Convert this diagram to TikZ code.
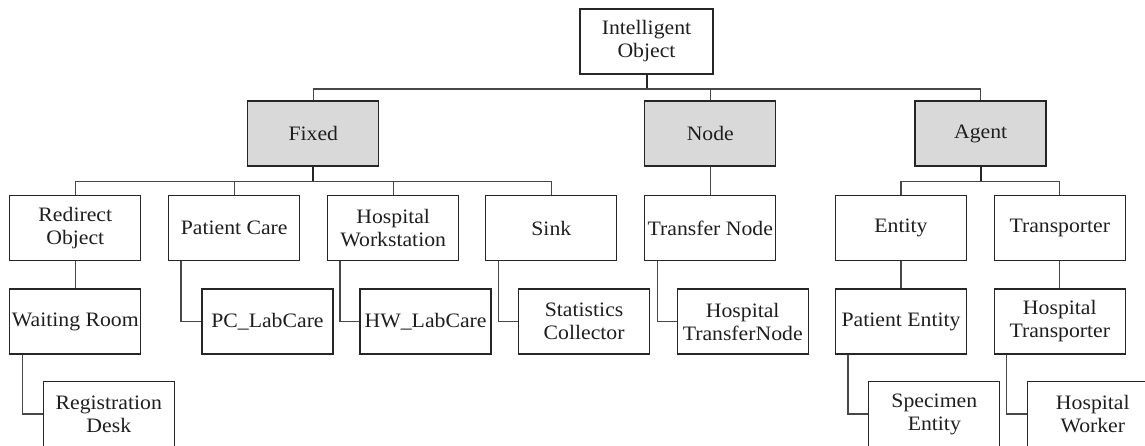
\documentclass[tikz,border=0pt]{standalone}
\usepackage{fontspec}
\setmainfont[FakeStretch=1.06]{Liberation Serif}
\begin{document}
\begin{tikzpicture}[x=1pt,y=-1pt,
  box/.style={draw=black!85,line width=1.3pt,fill=white,minimum width=131pt,minimum height=65pt,
    align=center,inner sep=1pt,text=black!88,font=\fontsize{20.5}{23}\selectfont},
  gbox/.style={box,fill=black!15},
  link/.style={draw=black!72,line width=1.3pt},
  stem/.style={draw=black!85,line width=2pt}]
\useasboundingbox (0,0) rectangle (1145,446);
% level 0
\node[box,minimum width=133pt] (io) at (646.5,41.5) {Intelligent\\Object};
% level 1
\node[gbox] (fixed) at (313.3,133.5) {Fixed};
\node[gbox] (nodeb) at (710.3,133.5) {Node};
\node[gbox] (agent) at (980.6,133.5) {Agent};
% level 2
\node[box] (redirect) at (75.3,228) {Redirect\\Object};
\node[box] (pcare) at (234.2,228) {Patient Care};
\node[box] (hws) at (393.2,228) {Hospital\\Workstation};
\node[box] (sink) at (551.3,228) {Sink};
\node[box] (tnode) at (710.3,228) {Transfer Node};
\node[box] (entity) at (901,228) {Entity};
\node[box] (transp) at (1059.8,228) {Transporter};
% level 3
\node[box] (wroom) at (75.3,321.5) {Waiting Room};
\node[box] (pclab) at (267.5,321.5) {PC\_LabCare};
\node[box] (hwlab) at (425.6,321.5) {HW\_LabCare};
\node[box] (stats) at (584.1,321.5) {Statistics\\Collector};
\node[box] (htnode) at (742.7,321.5) {Hospital\\TransferNode};
\node[box] (pent) at (901,321.5) {Patient Entity};
\node[box] (htransp) at (1059.8,321.5) {Hospital\\Transporter};
% level 4
\node[box] (reg) at (108.8,414) {Registration\\Desk};
\node[box] (spec) at (934.3,414) {Specimen\\Entity};
\node[box] (hworker) at (1092.8,414) {Hospital\\Worker};
% top bus
\draw[stem] (io.south) -- ([yshift=-14.5pt]io.south) coordinate (tb);
\draw[link] (fixed.north) |- (tb) -| (agent.north);
\draw[link] (nodeb.north) -- (nodeb.north |- tb);
% fixed bus
\draw[stem] (fixed.south) -- ([yshift=-15pt]fixed.south) coordinate (fb);
\draw[link] (redirect.north) |- (fb) -| (sink.north);
\draw[link] (pcare.north) -- (pcare.north |- fb);
\draw[link] (hws.north) -- (hws.north |- fb);
% node
\draw[link] (nodeb.south) -- (tnode.north);
% agent bus
\draw[stem] (agent.south) -- ([yshift=-15pt]agent.south) coordinate (ab);
\draw[link] (entity.north) |- (ab) -| (transp.north);
% straight children
\draw[link] (redirect.south) -- (wroom.north);
\draw[link] (entity.south) -- (pent.north);
\draw[link] (transp.south) -- (htransp.north);
% elbow children
\draw[link] ([xshift=13pt]wroom.south west) |- (reg.west);
\draw[link] ([xshift=13pt]pcare.south west) |- (pclab.west);
\draw[link] ([xshift=13pt]hws.south west) |- (hwlab.west);
\draw[link] ([xshift=13pt]sink.south west) |- (stats.west);
\draw[link] ([xshift=13pt]tnode.south west) |- (htnode.west);
\draw[link] ([xshift=13pt]pent.south west) |- (spec.west);
\draw[link] ([xshift=13pt]htransp.south west) |- (hworker.west);
\end{tikzpicture}
\end{document}
